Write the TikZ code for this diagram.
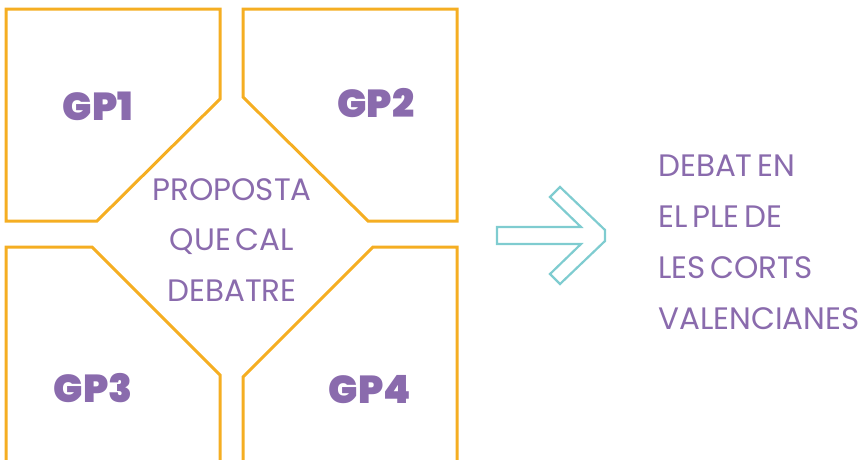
\documentclass[tikz,border=0pt]{standalone}
\usepackage{fontspec}
\setmainfont{Poppins}[WordSpace=0.6]
\newfontfamily\gpfont{Poppins}[UprightFont=* Black]
\definecolor{gold}{HTML}{F5AE22}
\definecolor{plum}{HTML}{8A6BAD}
\definecolor{teal}{HTML}{7FCCD0}
\tikzset{
  group/.style={draw=gold, line width=3pt, line join=miter},
  gplabel/.style={text=plum, font=\gpfont\fontsize{39}{44}\selectfont, anchor=base, inner sep=0pt},
  txt/.style={text=plum, font=\fontsize{31}{34}\selectfont, anchor=base, inner sep=0pt},
  arrowshape/.style={draw=teal, line width=2.2pt, line join=miter}
}
\begin{document}
\begin{tikzpicture}[x=1pt,y=-1pt]
\useasboundingbox (0,0) rectangle (863,459);
% group shapes
\draw[group] (6,9) -- (220,9) -- (220,99) -- (97,221) -- (6,221) -- cycle;
\draw[group] (243,9) -- (457,9) -- (457,221) -- (368,221) -- (243,97) -- cycle;
\draw[group] (6,470) -- (6,247) -- (92,247) -- (220,375) -- (220,470);
\draw[group] (457,470) -- (457,247) -- (373,247) -- (243,377) -- (243,470);
% group labels
\node[gplabel] (gp1) at (98,120) {GP1};
\node[gplabel] (gp2) at (376,117) {GP2};
\node[gplabel] (gp3) at (93,402) {GP3};
\node[gplabel] (gp4) at (370,403) {GP4};
% centre text
\node[txt] (c1) at (232,200) {PROPOSTA};
\node[txt] (c2) at (232,250) {QUE CAL};
\node[txt] (c3) at (232,301) {DEBATRE};
% arrow
\draw[arrowshape] (497,227) -- (581,227) -- (550,197) -- (560,187) -- (605,230) -- (605,241) -- (560,284) -- (550,274) -- (581,244) -- (497,244) -- cycle;
% right text
\node[txt, anchor=base west] (r1) at (658,176) {DEBAT EN};
\node[txt, anchor=base west] (r2) at (658,227) {EL PLE DE};
\node[txt, anchor=base west] (r3) at (658,278) {LES CORTS};
\node[txt, anchor=base west] (r4) at (658,329) {VALENCIANES};
\end{tikzpicture}
\end{document}
